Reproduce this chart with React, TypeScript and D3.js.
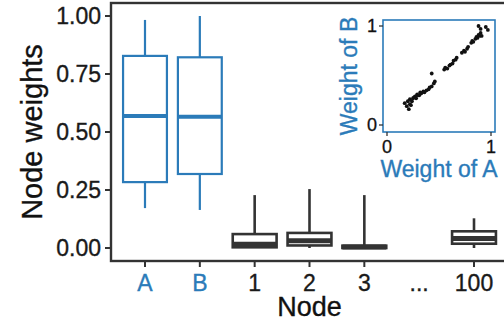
import React from "react";
import * as d3 from "d3";

// categories on the x axis ("..." is a gap, no box)
const categories = ["A", "B", "1", "2", "3", "...", "100"];
const boxNodes = ["A", "B", "1", "2", "3", "100"];
const whiskerLow = [0.172, 0.164, 0.0, 0.0, 0.0, 0.0];
const q1 = [0.284, 0.319, 0.003, 0.011, 0.0, 0.0185];
const median = [0.569, 0.566, 0.0164, 0.031, 0.004, 0.041];
const q3 = [0.828, 0.822, 0.06, 0.065, 0.01, 0.072];
const whiskerHigh = [0.983, 1.0, 0.228, 0.254, 0.228, 0.128];
const yTicks = [0, 0.25, 0.5, 0.75, 1];

// inset scatter: weight of A vs weight of B
const weightA = [
  0.17, 0.19, 0.2, 0.21, 0.22, 0.22, 0.23, 0.24, 0.25, 0.26, 0.27, 0.28, 0.29,
  0.3, 0.31, 0.32, 0.33, 0.35, 0.36, 0.38, 0.4, 0.41, 0.43, 0.45, 0.46, 0.43,
  0.55, 0.56, 0.58, 0.6, 0.61, 0.63, 0.64, 0.66, 0.67, 0.72, 0.74, 0.75, 0.77,
  0.78, 0.81, 0.82, 0.83, 0.85, 0.86, 0.87, 0.88, 0.89, 0.9, 0.91, 0.88, 0.9,
  0.95, 0.97,
];
const weightB = [
  0.22, 0.19, 0.24, 0.16, 0.21, 0.26, 0.2, 0.24, 0.27, 0.28, 0.29, 0.27, 0.31,
  0.3, 0.3, 0.33, 0.32, 0.34, 0.33, 0.35, 0.36, 0.38, 0.39, 0.42, 0.44, 0.52,
  0.56, 0.58, 0.57, 0.6, 0.61, 0.62, 0.65, 0.66, 0.68, 0.73, 0.75, 0.74, 0.77,
  0.79, 0.83, 0.85, 0.84, 0.87, 0.89, 0.88, 0.91, 0.9, 0.93, 0.9, 1.0, 0.97,
  0.99, 0.96,
];

const BLUE = "#2b7bb9";
const DARK = "#333333";
const INK = "#1a1a1a";
const FONT = "'Liberation Sans', Arial, Helvetica, sans-serif";

export default function App() {
  const width = 504;
  const height = 322;

  const x = d3
    .scalePoint<string>()
    .domain(categories)
    .range([111, 508])
    .padding(0.62);
  const y = d3.scaleLinear().domain([-0.056, 1.056]).range([261, 3]);
  const boxW = x.step() * 0.8;

  const ix = d3.scaleLinear().domain([0, 1]).range([387, 491]);
  const iy = d3.scaleLinear().domain([0, 1]).range([125, 26]);

  const isAB = (c: string) => c === "A" || c === "B";

  return (
    <svg
      width={width}
      height={height}
      style={{ position: "absolute", left: 0, top: 0, background: "#fff" }}
      fontFamily={FONT}
    >
      {/* panel frame */}
      <rect x={111} y={3} width={420} height={258} fill="none" stroke={DARK} strokeWidth={2.4} />

      {/* y axis */}
      {yTicks.map((t) => (
        <g key={t}>
          <line x1={105} x2={111} y1={y(t)} y2={y(t)} stroke={DARK} strokeWidth={2} />
          <text x={101} y={y(t)} dy="0.36em" textAnchor="end" fontSize={23} fill={INK} stroke={INK} strokeWidth={0.35}>
            {d3.format(".2f")(t)}
          </text>
        </g>
      ))}
      <text
        transform={`translate(42,${(y(0) + y(1)) / 2}) rotate(-90)`}
        textAnchor="middle"
        fontSize={29}
        fill="#111"
        stroke="#111"
        strokeWidth={0.35}
      >
        Node weights
      </text>

      {/* x axis */}
      {categories.map((c) => (
        <g key={c}>
          {c !== "..." && (
            <line x1={x(c)} x2={x(c)} y1={261} y2={267} stroke={DARK} strokeWidth={2} />
          )}
          <text
            x={x(c)}
            y={290.5}
            textAnchor="middle"
            fontSize={23}
            fill={isAB(c) ? BLUE : INK}
            stroke={isAB(c) ? BLUE : INK}
            strokeWidth={0.35}
          >
            {c}
          </text>
        </g>
      ))}
      <text x={(111 + 508) / 2} y={315.5} textAnchor="middle" fontSize={27} fill="#111" stroke="#111" strokeWidth={0.35}>
        Node
      </text>

      {/* boxes */}
      {boxNodes.map((c, i) => {
        const cx = x(c) as number;
        const col = isAB(c) ? BLUE : DARK;
        const sw = isAB(c) ? 2.2 : 2.6;
        const mw = isAB(c) ? 4 : 5;
        return (
          <g key={c} stroke={col} fill="none">
            <line x1={cx} x2={cx} y1={y(q3[i])} y2={y(whiskerHigh[i])} strokeWidth={sw} />
            <line x1={cx} x2={cx} y1={y(q1[i])} y2={y(whiskerLow[i])} strokeWidth={sw} />
            <rect
              x={cx - boxW / 2}
              y={y(q3[i])}
              width={boxW}
              height={Math.max(y(q1[i]) - y(q3[i]), 0.5)}
              fill="#fff"
              strokeWidth={sw}
            />
            <line
              x1={cx - boxW / 2}
              x2={cx + boxW / 2}
              y1={y(median[i])}
              y2={y(median[i])}
              strokeWidth={mw}
            />
          </g>
        );
      })}

      {/* inset scatter */}
      <rect x={383} y={20} width={112} height={112} fill="#fff" stroke={BLUE} strokeWidth={1.6} />
      {[0, 1].map((t) => (
        <g key={`iy${t}`}>
          <line x1={379} x2={383} y1={iy(t)} y2={iy(t)} stroke={DARK} strokeWidth={1.3} />
          <text x={377} y={iy(t)} dy="0.36em" textAnchor="end" fontSize={18} fill="#111" stroke="#111" strokeWidth={0.3}>
            {t}
          </text>
          <line x1={ix(t)} x2={ix(t)} y1={132} y2={136} stroke={DARK} strokeWidth={1.3} />
          <text x={ix(t)} y={153} textAnchor="middle" fontSize={18} fill="#111" stroke="#111" strokeWidth={0.3}>
            {t}
          </text>
        </g>
      ))}
      {weightA.map((a, i) => (
        <circle key={i} cx={ix(a)} cy={iy(weightB[i])} r={1.9} fill="#111" />
      ))}
      <text x={(383 + 495) / 2} y={176.5} textAnchor="middle" fontSize={23} fill={BLUE} stroke={BLUE} strokeWidth={0.35}>
        Weight of A
      </text>
      <text
        transform={`translate(357,${(20 + 132) / 2}) rotate(-90)`}
        textAnchor="middle"
        fontSize={23}
        fill={BLUE}
        stroke={BLUE}
        strokeWidth={0.35}
      >
        Weight of B
      </text>
    </svg>
  );
}
